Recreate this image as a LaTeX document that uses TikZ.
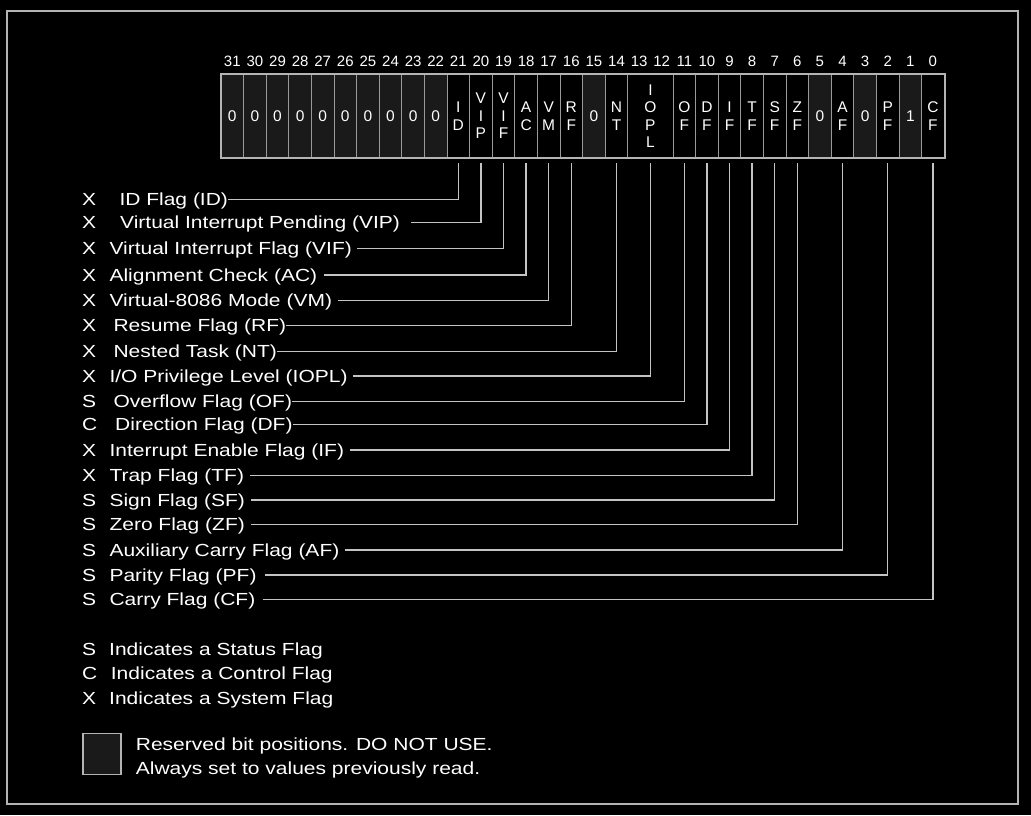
\documentclass[tikz,border=0pt]{standalone}
\usepackage{fontspec}
\setmainfont{Liberation Sans}
\newfontfamily\labfont{Liberation Sans}[FakeStretch=1.2]
\definecolor{framec}{HTML}{B4B4B4}
\definecolor{resv}{HTML}{1A1A1A}
\definecolor{divg}{HTML}{9A9A9A}
\definecolor{lineg}{HTML}{C4C4C4}
\newcommand\bitx[1]{221+(31.5-#1)*22.6}
\begin{document}
\begin{tikzpicture}[x=1pt,y=-1pt,
  cell/.style={draw=divg, line width=1pt, minimum width=22.6pt, minimum height=83pt,
    inner sep=0pt, text=white, font=\fontsize{15.5}{17.5}\selectfont, align=center},
  rcell/.style={cell, fill=resv},
  bitnum/.style={text=white, font=\fontsize{15}{18}\selectfont, anchor=base, inner sep=0pt},
  flag/.style={text=white, font=\labfont\fontsize{17.5}{21}\selectfont, anchor=base west, inner sep=0pt},
  conn/.style={draw=lineg, line width=1.3pt}]
\fill[black] (0,0) rectangle (1031,815);
\useasboundingbox (0,0) rectangle (1031,815);
\draw[framec, line width=1.5pt] (7,11) rectangle (1018,804);
% register cells
\foreach \i in {31,...,22} \node[rcell] (b\i) at ({\bitx{\i}},116) {0};
\newcommand\fc[2]{\node[cell] (b#1) at ({\bitx{#1}},116) {#2};}
\newcommand\rc[2]{\node[rcell] (b#1) at ({\bitx{#1}},116) {#2};}
\fc{21}{I\\D}
\fc{20}{V\\I\\P}
\fc{19}{V\\I\\F}
\fc{18}{A\\C}
\fc{17}{V\\M}
\fc{16}{R\\F}
\rc{15}{0}
\fc{14}{N\\T}
\node[cell, minimum width=45.2pt] (b13) at ({221+19*22.6},116) {I\\O\\P\\L};
\fc{11}{O\\F}
\fc{10}{D\\F}
\fc{9}{I\\F}
\fc{8}{T\\F}
\fc{7}{S\\F}
\fc{6}{Z\\F}
\rc{5}{0}
\fc{4}{A\\F}
\rc{3}{0}
\fc{2}{P\\F}
\rc{1}{1}
\fc{0}{C\\F}
\draw[draw=framec, line width=2pt] (b31.north west) rectangle (b0.south east);
% bit numbers
\foreach \i in {0,...,31} \node[bitnum] (n\i) at ({\bitx{\i}},66) {\i};
% flag labels
\newcommand\flagrow[7]{%
  \node[flag] (k#1) at (82,#4+6) {#2};
  \node[flag] (l#1) at (#3,#4+6) {#5};
  \draw[conn] ([xshift=#6pt,yshift=6pt]l#1.base east) -| ([yshift=-5pt]b#7.south);}
\flagrow{ID}{X}{119.3}{199.3}{ID Flag (ID)}{0}{21}
\flagrow{VIP}{X}{120}{222.7}{Virtual Interrupt Pending (VIP)}{11}{20}
\flagrow{VIF}{X}{109.3}{248.3}{Virtual Interrupt Flag (VIF)}{5}{19}
\flagrow{AC}{X}{109.3}{275}{Alignment Check (AC)}{7}{18}
\flagrow{VM}{X}{109.3}{300.7}{Virtual-8086 Mode (VM)}{6}{17}
\flagrow{RF}{X}{113.3}{325.7}{Resume Flag (RF)}{0}{16}
\flagrow{NT}{X}{113.3}{351.7}{Nested Task (NT)}{0}{14}
\flagrow{IOPL}{X}{109.3}{376}{I/O Privilege Level (IOPL)}{5}{13}
\flagrow{OF}{S}{113.3}{401.7}{Overflow Flag (OF)}{0}{11}
\flagrow{DF}{C}{115}{424.3}{Direction Flag (DF)}{0}{10}
\flagrow{IF}{X}{109.3}{450}{Interrupt Enable Flag (IF)}{6}{9}
\flagrow{TF}{X}{109.3}{475.3}{Trap Flag (TF)}{6}{8}
\flagrow{SF}{S}{109.3}{500}{Sign Flag (SF)}{6}{7}
\flagrow{ZF}{S}{109.3}{524.3}{Zero Flag (ZF)}{6}{6}
\flagrow{AF}{S}{109.3}{550}{Auxiliary Carry Flag (AF)}{5}{4}
\flagrow{PF}{S}{109.3}{575}{Parity Flag (PF)}{8}{2}
\flagrow{CF}{S}{109.3}{599.3}{Carry Flag (CF)}{7}{0}
% legend
\node[flag] (kS) at (82,655) {S};
\node[flag] (tS) at (109,655) {Indicates a Status Flag};
\node[flag] (kC) at (82,679) {C};
\node[flag] (tC) at (110.7,679) {Indicates a Control Flag};
\node[flag] (kX) at (82,704) {X};
\node[flag] (tX) at (109,704) {Indicates a System Flag};
\node[draw=framec, fill=resv, line width=1.5pt, minimum width=38pt, minimum height=41pt,
  inner sep=0pt, anchor=north west] (leg) at (82.3,732.7) {};
\node[flag] (r1) at (135.7,750) {Reserved bit positions. DO NOT USE.};
\node[flag] (r2) at (135.7,774) {Always set to values previously read.};
\end{tikzpicture}
\end{document}
